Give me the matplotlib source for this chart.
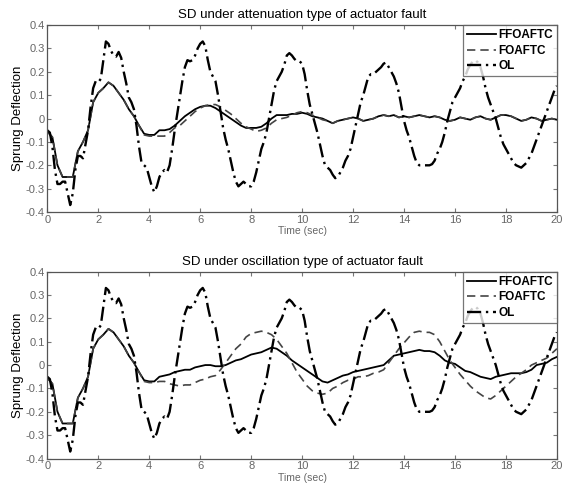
import numpy as np
import matplotlib
matplotlib.use("Agg")
import matplotlib.pyplot as plt
from matplotlib.ticker import FuncFormatter

plt.rcParams['font.family'] = ['Liberation Sans', 'DejaVu Sans']

# time bases
t_ol = np.arange(0, 201) / 10.0      # 0.1 s step for the open loop
t_c = np.arange(0, 101) / 5.0        # 0.2 s step for the controllers

# open loop response (same in both panels)
ol = [-0.05, -0.06, -0.12, -0.22, -0.28, -0.28, -0.27, -0.27, -0.32, -0.37,
      -0.32, -0.22, -0.16, -0.16, -0.17, -0.11, -0.05, 0.05, 0.13, 0.16,
      0.155, 0.17, 0.25, 0.33, 0.32, 0.29, 0.27, 0.265, 0.285, 0.26,
      0.20, 0.15, 0.09, 0.07, 0.04, -0.03, -0.12, -0.19, -0.20, -0.21,
      -0.25, -0.29, -0.315, -0.29, -0.25, -0.23, -0.22, -0.23, -0.20, -0.13,
      -0.05, 0.02, 0.09, 0.16, 0.22, 0.25, 0.245, 0.25, 0.27, 0.30,
      0.32, 0.33, 0.31, 0.25, 0.20, 0.18, 0.16, 0.10, 0.03, -0.04,
      -0.09, -0.13, -0.18, -0.23, -0.27, -0.29, -0.28, -0.27, -0.28, -0.29,
      -0.29, -0.27, -0.23, -0.18, -0.13, -0.10, -0.06, 0.0, 0.06, 0.12,
      0.16, 0.18, 0.20, 0.23, 0.27, 0.28, 0.27, 0.255, 0.245, 0.245,
      0.235, 0.19, 0.12, 0.06, 0.02, -0.02, -0.06, -0.11, -0.16, -0.20,
      -0.21, -0.22, -0.24, -0.255, -0.25, -0.23, -0.21, -0.18, -0.16, -0.13,
      -0.08, -0.03, 0.02, 0.07, 0.10, 0.14, 0.18, 0.19, 0.19, 0.20,
      0.21, 0.22, 0.235, 0.24, 0.22, 0.20, 0.18, 0.15, 0.11, 0.05,
      -0.01, -0.05, -0.08, -0.12, -0.16, -0.19, -0.20, -0.20, -0.20, -0.20,
      -0.20, -0.195, -0.18, -0.15, -0.13, -0.10, -0.06, -0.01, 0.03, 0.07,
      0.09, 0.11, 0.13, 0.16, 0.18, 0.21, 0.23, 0.245, 0.25, 0.24,
      0.22, 0.18, 0.13, 0.09, 0.06, 0.03, 0.0, -0.04, -0.08, -0.11,
      -0.13, -0.15, -0.17, -0.19, -0.20, -0.205, -0.21, -0.20, -0.19, -0.17,
      -0.15, -0.12, -0.09, -0.06, -0.03, 0.0, 0.03, 0.06, 0.09, 0.12,
      0.14]

# attenuation fault
ffo_att = [-0.055, -0.08, -0.20, -0.25, -0.25, -0.25, -0.14, -0.10, -0.05, 0.07,
           0.11, 0.13, 0.155, 0.14, 0.11, 0.08, 0.04, 0.01, -0.03, -0.065,
           -0.07, -0.07, -0.05, -0.05, -0.045, -0.03, -0.01, 0.01, 0.025, 0.04,
           0.05, 0.055, 0.055, 0.045, 0.03, 0.015, 0.0, -0.015, -0.03, -0.04,
           -0.04, -0.04, -0.035, -0.02, 0.0, 0.015, 0.015, 0.015, 0.02, 0.02,
           0.025, 0.02, 0.01, 0.005, 0.0, -0.01, -0.02, -0.01, -0.005, 0.0,
           0.005, 0.0, -0.01, -0.005, 0.0, 0.01, 0.015, 0.01, 0.015, 0.005,
           0.01, 0.005, 0.01, 0.015, 0.01, 0.005, 0.01, 0.005, -0.005, -0.01,
           -0.005, 0.005, 0.0, -0.005, 0.005, 0.01, 0.0, -0.005, 0.005, 0.015,
           0.015, 0.01, 0.0, -0.01, -0.005, 0.005, 0.0, -0.01, -0.005, 0.0,
           -0.005]
fo_att = [-0.055, -0.08, -0.20, -0.25, -0.25, -0.25, -0.14, -0.10, -0.05, 0.07,
          0.11, 0.13, 0.155, 0.14, 0.11, 0.08, 0.04, 0.01, -0.03, -0.07,
          -0.075, -0.075, -0.075, -0.075, -0.06, -0.04, -0.03, -0.01, 0.01, 0.03,
          0.045, 0.055, 0.06, 0.06, 0.05, 0.035, 0.02, 0.0, -0.02, -0.035,
          -0.045, -0.055, -0.05, -0.04, -0.02, -0.005, 0.0, 0.005, 0.015, 0.025,
          0.03, 0.025, 0.015, 0.005, -0.005, -0.01, -0.02, -0.01, -0.005, 0.0,
          0.005, 0.0, -0.01, -0.005, 0.0, 0.01, 0.015, 0.01, 0.015, 0.005,
          0.01, 0.005, 0.01, 0.015, 0.01, 0.005, 0.01, 0.005, -0.005, -0.01,
          -0.005, 0.005, 0.0, -0.005, 0.005, 0.01, 0.0, -0.005, 0.005, 0.015,
          0.015, 0.01, 0.0, -0.01, -0.005, 0.005, 0.0, -0.01, -0.005, 0.0,
          -0.005]

# oscillation fault
ffo_osc = [-0.055, -0.08, -0.20, -0.25, -0.25, -0.25, -0.14, -0.10, -0.05, 0.07,
           0.11, 0.13, 0.155, 0.14, 0.11, 0.08, 0.04, 0.01, -0.03, -0.065,
           -0.07, -0.07, -0.05, -0.045, -0.04, -0.03, -0.025, -0.02, -0.02, -0.01,
           -0.005, 0.0, 0.0, -0.005, -0.005, 0.0, 0.01, 0.02, 0.025, 0.035,
           0.045, 0.05, 0.055, 0.065, 0.075, 0.07, 0.055, 0.04, 0.02, 0.005,
           -0.01, -0.025, -0.04, -0.055, -0.07, -0.075, -0.065, -0.055, -0.045, -0.04,
           -0.03, -0.025, -0.02, -0.015, -0.01, -0.005, 0.0, 0.02, 0.04, 0.045,
           0.05, 0.055, 0.06, 0.065, 0.06, 0.06, 0.055, 0.04, 0.02, 0.01,
           0.005, -0.01, -0.025, -0.03, -0.04, -0.05, -0.055, -0.06, -0.05, -0.045,
           -0.04, -0.035, -0.035, -0.035, -0.03, -0.02, 0.0, 0.005, 0.01, 0.025,
           0.035]
fo_osc = [-0.055, -0.08, -0.20, -0.25, -0.25, -0.25, -0.14, -0.10, -0.05, 0.07,
          0.11, 0.13, 0.155, 0.14, 0.11, 0.08, 0.04, 0.01, -0.03, -0.07,
          -0.075, -0.075, -0.07, -0.07, -0.08, -0.085, -0.09, -0.085, -0.085, -0.075,
          -0.065, -0.06, -0.05, -0.045, -0.02, 0.01, 0.04, 0.07, 0.09, 0.12,
          0.135, 0.14, 0.145, 0.14, 0.13, 0.11, 0.08, 0.05, 0.01, -0.03,
          -0.06, -0.09, -0.11, -0.12, -0.125, -0.12, -0.10, -0.09, -0.075, -0.065,
          -0.06, -0.05, -0.05, -0.045, -0.035, -0.03, -0.02, 0.01, 0.04, 0.07,
          0.095, 0.12, 0.14, 0.145, 0.14, 0.14, 0.13, 0.10, 0.06, 0.02,
          -0.01, -0.04, -0.065, -0.09, -0.11, -0.125, -0.14, -0.145, -0.13, -0.11,
          -0.09, -0.07, -0.05, -0.035, -0.02, 0.0, 0.01, 0.02, 0.03, 0.05,
          0.07]

titles = ['SD under attenuation type of actuator fault',
          'SD under oscillation type of actuator fault']
series = [(ffo_att, fo_att), (ffo_osc, fo_osc)]

fig = plt.figure(figsize=(5.65, 4.92), dpi=100)
positions = [[0.0837, 0.569, 0.902, 0.380], [0.0837, 0.068, 0.902, 0.380]]
fmt = FuncFormatter(lambda v, p: '%g' % round(v, 2))

for pos, title, (ffo, fo) in zip(positions, titles, series):
    ax = fig.add_axes(pos)
    ax.plot(t_c, ffo, color='black', lw=1.3, label='FFOAFTC')
    ax.plot(t_c, fo, color='#444444', lw=1.2, ls=(0, (5, 3)), label='FOAFTC')
    ax.plot(t_ol, ol, color='black', lw=1.7, ls=(0, (6, 2, 1, 2)), label='OL')
    ax.set_xlim(0, 20)
    ax.set_ylim(-0.4, 0.4)
    ax.set_xticks(np.arange(0, 21, 2))
    ax.set_yticks(np.arange(-4, 5) / 10.0)
    ax.yaxis.set_major_formatter(fmt)
    ax.tick_params(direction='in', top=True, right=True, length=3,
                   labelsize=8, colors='#777777', labelcolor='#666666', pad=2)
    for s in ax.spines.values():
        s.set_color('#555555')
        s.set_linewidth(0.9)
    ax.set_title(title, fontsize=9.5, pad=5)
    ax.set_ylabel('Sprung Deflection', fontsize=9.5, labelpad=1)
    ax.set_xlabel('Time (sec)', fontsize=7.5, color='#666666', labelpad=1)
    leg = ax.legend(loc='upper right', borderaxespad=0, fancybox=False,
                    fontsize=8.5, handlelength=2.4, handletextpad=0.2,
                    labelspacing=0.3, borderpad=0.35)
    leg.get_frame().set_edgecolor('#555555')
    leg.get_frame().set_linewidth(0.9)
    for txt in leg.get_texts():
        txt.set_fontweight('bold')

fig.savefig('out.png', dpi=100)
